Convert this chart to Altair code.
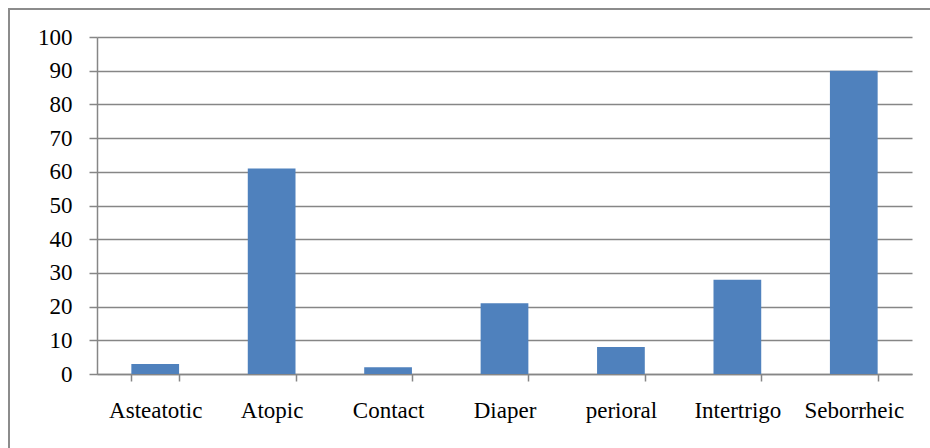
import altair as alt
import pandas as pd

categories = ["Asteatotic", "Atopic", "Contact", "Diaper", "perioral", "Intertrigo", "Seborrheic"]
values = [3, 61, 2, 21, 8, 28, 90]

df = pd.DataFrame({"category": categories, "value": values})

W, H = 815, 337
GRAY = "#868686"
FONT = "Liberation Serif"

bars = alt.Chart(df).mark_bar(color="#4F81BD").encode(
    x=alt.X("category:N", sort=categories, title=None,
            scale=alt.Scale(paddingInner=0.59, paddingOuter=0.295),
            axis=alt.Axis(labelAngle=0, tickBand="extent", tickSize=7, tickColor=GRAY,
                          domainColor=GRAY, labelPadding=18, labelFont=FONT,
                          labelFontSize=23, labelColor="#000000", grid=False)),
    y=alt.Y("value:Q", title=None,
            scale=alt.Scale(domain=[0, 100], nice=False),
            axis=alt.Axis(values=list(range(0, 101, 10)), tickSize=8, tickColor=GRAY,
                          domainColor=GRAY, gridColor=GRAY, labelPadding=17,
                          labelFont=FONT, labelFontSize=23, labelColor="#000000")),
)

# outer chart border (decoration)
border = alt.Chart(df).mark_rect(fill=None, stroke="#8c8c8c", strokeWidth=1.5).encode(
    x=alt.value(-88), x2=alt.value(W + 40), y=alt.value(-28), y2=alt.value(H + 120)
)

chart = alt.layer(bars, border).properties(
    width=W, height=H,
    autosize=alt.AutoSizeParams(type="none"),
    padding={"left": 97, "top": 37, "right": 18, "bottom": 74},
).configure_view(stroke=None).configure_axis(domainWidth=1.5, tickWidth=1.5, gridWidth=1.3)

chart.save("out.html", embed_options={"renderer": "svg", "actions": False})
